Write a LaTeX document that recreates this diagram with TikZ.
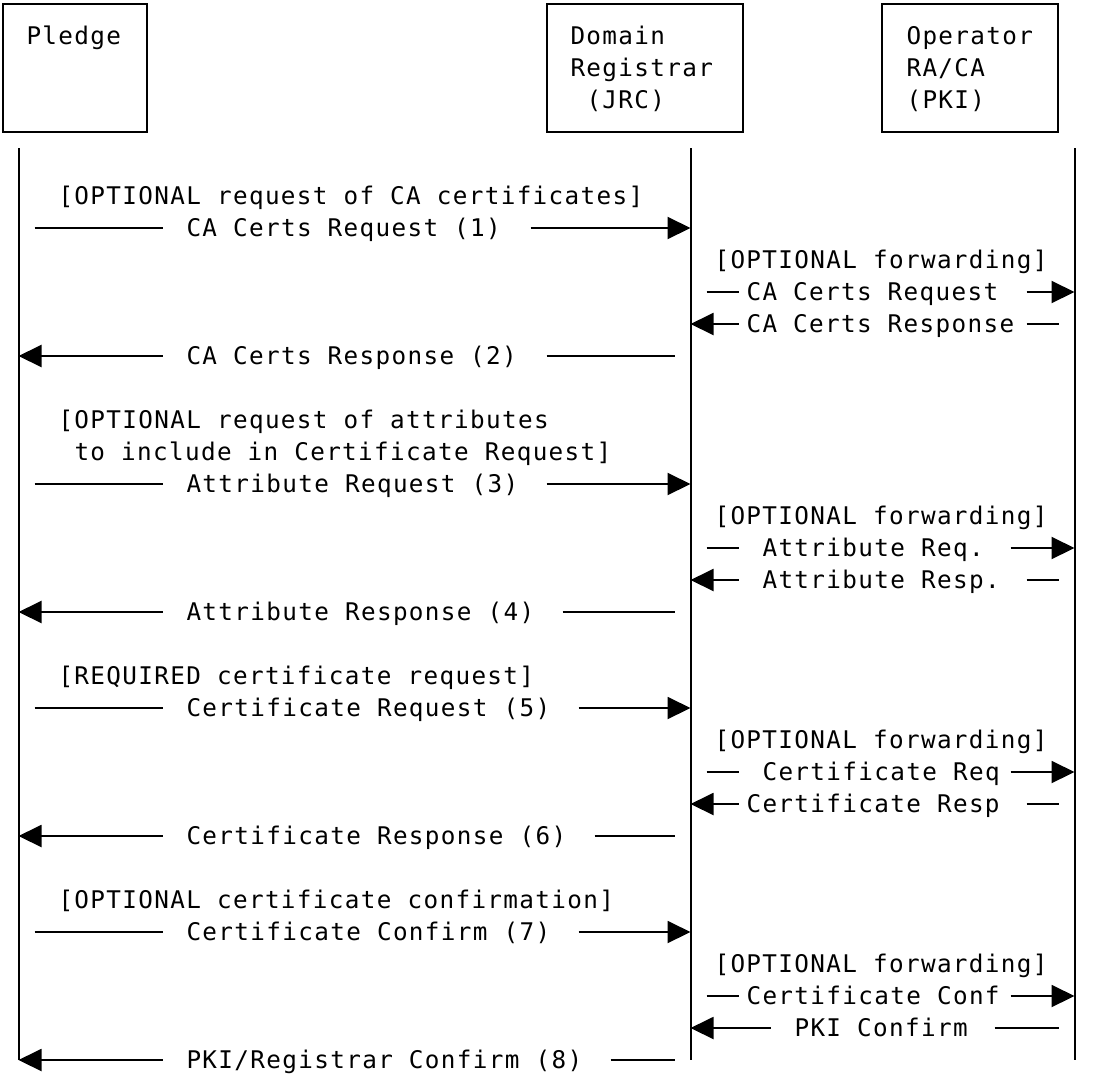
\documentclass[tikz,border=0pt]{standalone}
\usepackage{fontspec}
\usetikzlibrary{arrows.meta}
\newfontfamily\monoface[LetterSpace=5.6]{DejaVu Sans Mono}
\begin{document}
\begin{tikzpicture}[x=1pt,y=-1pt,
  txt/.style={anchor=base west, inner sep=0pt, outer sep=0pt, font=\monoface\fontsize{24.3}{29}\selectfont},
  actor/.style={draw, line width=2pt, inner sep=0pt, minimum height=128pt},
  life/.style={line width=2pt},
  msg/.style={line width=2pt},
  arr/.style={line width=2pt, -{Triangle[length=23pt,width=22pt]}}]
\useasboundingbox (0,0) rectangle (1094,1074);
% actor boxes
\node[actor, minimum width=144pt] (pledgebox) at (74.5,68) {};
\node[actor, minimum width=196pt] (regbox) at (644.5,68) {};
\node[actor, minimum width=176pt] (pkibox) at (970,68) {};
\node[txt] (tp) at (26.5,44.9) {Pledge};
\node[txt] (tr1) at (570.5,44.9) {Domain};
\node[txt] (tr2) at (570.5,76.9) {Registrar};
\node[txt] (tr3) at (586.5,108.9) {(JRC)};
\node[txt] (to1) at (906.5,44.9) {Operator};
\node[txt] (to2) at (906.5,76.9) {RA/CA};
\node[txt] (to3) at (906.5,108.9) {(PKI)};
% lifelines
\coordinate (pT) at (18.5,148); \coordinate (pB) at (18.5,1060);
\coordinate (rT) at (690.5,148); \coordinate (rB) at (690.5,1060);
\coordinate (kT) at (1074.5,148); \coordinate (kB) at (1074.5,1060);
\draw[life] (pT) -- (pB);
\draw[life] (rT) -- (rB);
\draw[life] (kT) -- (kB);
% (1)
\node[txt] (l5) at (58.5,204.9) {[OPTIONAL request of CA certificates]};
\draw[msg] (34.5,228) -- (162.5,228);
\node[txt] (m1) at (186.5,236.9) {CA Certs Request (1)};
\draw[arr] (530.5,228) -- (690.5,228);
\node[txt] (f1) at (714.5,268.9) {[OPTIONAL forwarding]};
\draw[msg] (706.5,292) -- (738.5,292);
\node[txt] (f1a) at (746.5,300.9) {CA Certs Request};
\draw[arr] (1026.5,292) -- (1074.5,292);
\draw[arr] (738.5,324) -- (690.5,324);
\node[txt] (f1b) at (746.5,332.9) {CA Certs Response};
\draw[msg] (1026.5,324) -- (1058.5,324);
% (2)
\draw[arr] (162.5,356) -- (18.5,356);
\node[txt] (m2) at (186.5,364.9) {CA Certs Response (2)};
\draw[msg] (546.5,356) -- (674.5,356);
% (3)
\node[txt] (l12) at (58.5,428.9) {[OPTIONAL request of attributes};
\node[txt] (l13) at (74.5,460.9) {to include in Certificate Request]};
\draw[msg] (34.5,484) -- (162.5,484);
\node[txt] (m3) at (186.5,492.9) {Attribute Request (3)};
\draw[arr] (546.5,484) -- (690.5,484);
\node[txt] (f2) at (714.5,524.9) {[OPTIONAL forwarding]};
\draw[msg] (706.5,548) -- (738.5,548);
\node[txt] (f2a) at (762.5,556.9) {Attribute Req.};
\draw[arr] (1010.5,548) -- (1074.5,548);
\draw[arr] (738.5,580) -- (690.5,580);
\node[txt] (f2b) at (762.5,588.9) {Attribute Resp.};
\draw[msg] (1026.5,580) -- (1058.5,580);
% (4)
\draw[arr] (162.5,612) -- (18.5,612);
\node[txt] (m4) at (186.5,620.9) {Attribute Response (4)};
\draw[msg] (562.5,612) -- (674.5,612);
% (5)
\node[txt] (l20) at (58.5,684.9) {[REQUIRED certificate request]};
\draw[msg] (34.5,708) -- (162.5,708);
\node[txt] (m5) at (186.5,716.9) {Certificate Request (5)};
\draw[arr] (578.5,708) -- (690.5,708);
\node[txt] (f3) at (714.5,748.9) {[OPTIONAL forwarding]};
\draw[msg] (706.5,772) -- (738.5,772);
\node[txt] (f3a) at (762.5,780.9) {Certificate Req};
\draw[arr] (1010.5,772) -- (1074.5,772);
\draw[arr] (738.5,804) -- (690.5,804);
\node[txt] (f3b) at (746.5,812.9) {Certificate Resp};
\draw[msg] (1026.5,804) -- (1058.5,804);
% (6)
\draw[arr] (162.5,836) -- (18.5,836);
\node[txt] (m6) at (186.5,844.9) {Certificate Response (6)};
\draw[msg] (594.5,836) -- (674.5,836);
% (7)
\node[txt] (l27) at (58.5,908.9) {[OPTIONAL certificate confirmation]};
\draw[msg] (34.5,932) -- (162.5,932);
\node[txt] (m7) at (186.5,940.9) {Certificate Confirm (7)};
\draw[arr] (578.5,932) -- (690.5,932);
\node[txt] (f4) at (714.5,972.9) {[OPTIONAL forwarding]};
\draw[msg] (706.5,996) -- (738.5,996);
\node[txt] (f4a) at (746.5,1004.9) {Certificate Conf};
\draw[arr] (1010.5,996) -- (1074.5,996);
\draw[arr] (770.5,1028) -- (690.5,1028);
\node[txt] (f4b) at (794.5,1036.9) {PKI Confirm};
\draw[msg] (994.5,1028) -- (1058.5,1028);
% (8)
\draw[arr] (162.5,1060) -- (18.5,1060);
\node[txt] (m8) at (186.5,1068.9) {PKI/Registrar Confirm (8)};
\draw[msg] (610.5,1060) -- (674.5,1060);
\end{tikzpicture}
\end{document}
